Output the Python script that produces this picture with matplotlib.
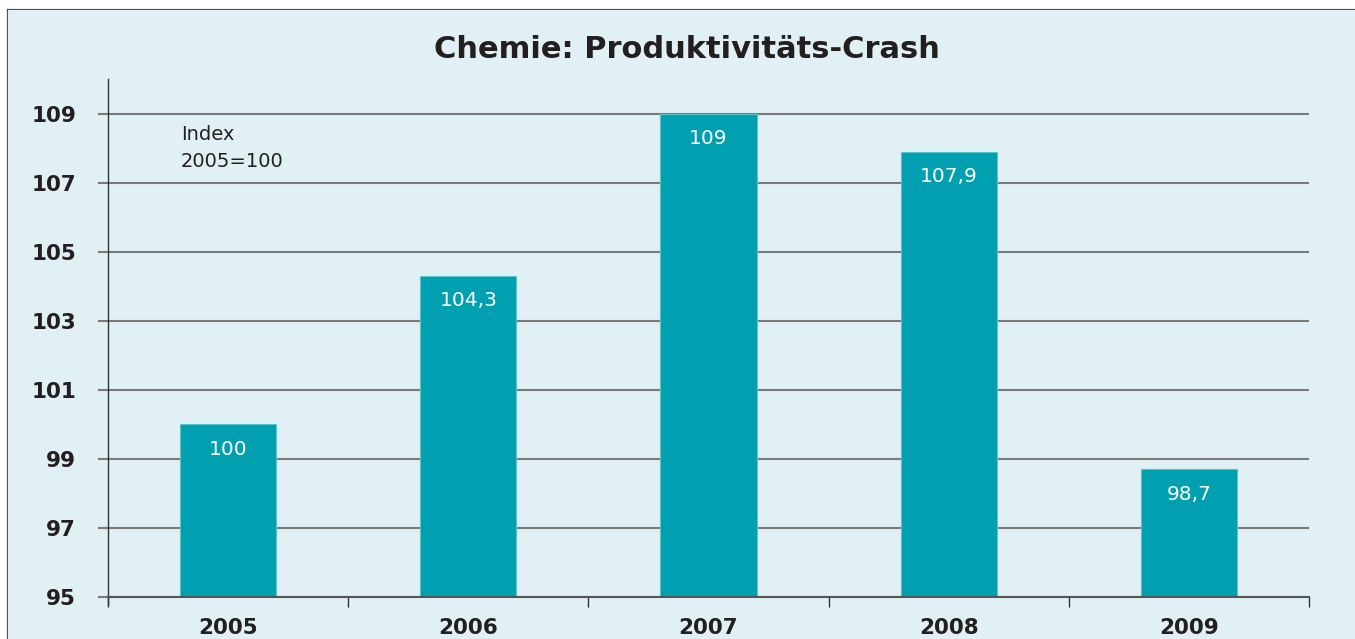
import matplotlib.pyplot as plt
import matplotlib.patches as mpatches
import matplotlib.lines as mlines
import numpy as np

# Produktivitaet Chemie, Index 2005=100
jahre = ['2005', '2006', '2007', '2008', '2009']
werte = [100, 104.3, 109, 107.9, 98.7]
labels = ['100', '104,3', '109', '107,9', '98,7']
yticks = [95, 97, 99, 101, 103, 105, 107, 109]

bg = '#e1f0f4'
teal = '#00a0b0'
dark = '#231f20'

fig = plt.figure(figsize=(13.55, 6.39), dpi=100, facecolor='white')

# light blue panel with frame on top/left
W, H = 1355, 639
fig.patches.append(mpatches.Rectangle((8 / W, 0), 1, 1 - 10 / H, transform=fig.transFigure,
                                      facecolor=bg, edgecolor='none', zorder=-1))
fig.lines.append(mlines.Line2D([8 / W, 1], [1 - 10 / H, 1 - 10 / H], transform=fig.transFigure,
                               color='#555555', lw=1.6, zorder=-1))
fig.lines.append(mlines.Line2D([8 / W, 8 / W], [0, 1 - 10 / H], transform=fig.transFigure,
                               color='#555555', lw=1.6, zorder=-1))

ax = fig.add_axes([108 / W, 1 - 597 / H, (1309 - 108) / W, (597 - 79) / H])
ax.set_facecolor('none')

x = np.arange(len(jahre))
ax.bar(x, [v - 95 for v in werte], bottom=95, width=0.4, color=teal,
       edgecolor='#5cc3cc', linewidth=0.8, zorder=3)

for xi, v, lab in zip(x, werte, labels):
    ax.annotate(lab, (xi, v), xytext=(0, -18), textcoords='offset points',
                ha='center', va='center', color='white', fontsize=14.5, zorder=4)

ax.set_xlim(-0.5, len(jahre) - 0.5)
ax.set_ylim(95, 110)
ax.set_yticks(yticks)
ax.set_yticklabels([str(t) for t in yticks])
ax.yaxis.grid(True, color='#7a7a7a', lw=1.5)
ax.set_axisbelow(True)

ax.set_xticks(x)
ax.set_xticklabels(jahre)
ax.set_xticks(np.arange(-0.5, len(jahre)), minor=True)
ax.tick_params(axis='x', which='major', length=0, pad=15, labelsize=15.5, labelcolor=dark)
ax.tick_params(axis='x', which='minor', length=7, width=1, color='#333333', direction='out')
ax.tick_params(axis='y', length=7, width=1.5, color='#7a7a7a', pad=16, labelsize=15.5,
               labelcolor=dark)
for t in ax.get_xticklabels() + ax.get_yticklabels():
    t.set_fontweight('bold')

for s in ['top', 'right']:
    ax.spines[s].set_visible(False)
ax.spines['left'].set_color('#333333')
ax.spines['left'].set_linewidth(1)
ax.spines['left'].set_bounds(94.77, 110)
ax.spines['bottom'].set_color('#555555')
ax.spines['bottom'].set_linewidth(1.5)
ax.spines['bottom'].set_zorder(5)

ax.text(-0.197, 108.0, 'Index\n2005=100', ha='left', va='center', fontsize=14,
        color=dark, linespacing=1.5)

fig.text(687 / W, 1 - 50 / H, 'Chemie: Produktivitäts-Crash', ha='center', va='center',
         fontsize=22, fontweight='bold', color=dark)

fig.savefig('out.png', dpi=100, facecolor='white')
